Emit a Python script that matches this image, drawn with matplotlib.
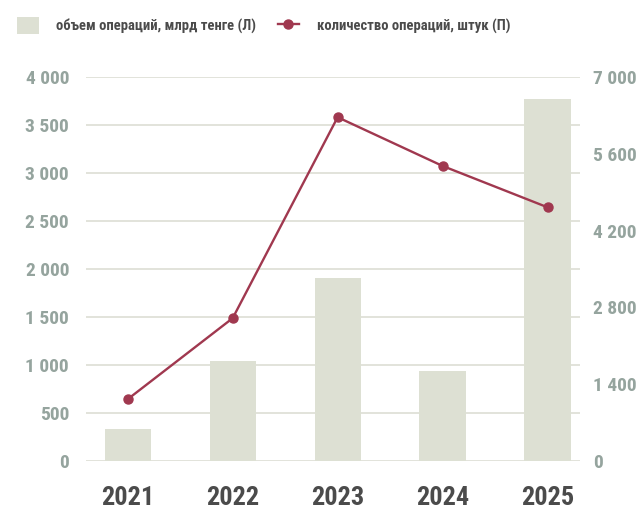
import matplotlib
matplotlib.use("Agg")
import matplotlib.pyplot as plt
from matplotlib.patches import Patch
from matplotlib.lines import Line2D
from matplotlib.ticker import FuncFormatter, FixedLocator
import numpy as np

# ── data ────────────────────────────────────────────────────────────────────
years = ["2021", "2022", "2023", "2024", "2025"]
volume_bn = [330, 1040, 1910, 935, 3770]        # left axis, bars
count_ops = [1120, 2600, 6270, 5380, 4625]      # right axis, line

BAR = "#DDE0D3"
LINE = "#A0384F"
TICK = "#95A49E"
DARK = "#4B4B4B"
GRID = "#E2E3DA"
FONT = ["Roboto Condensed", "DejaVu Sans"]

plt.rcParams["font.family"] = FONT
plt.rcParams["font.weight"] = "bold"


def spaced(v, _pos=None):
    return f"{v:,.0f}".replace(",", " ")


fig = plt.figure(figsize=(6.4, 5.11), dpi=100)
ax = fig.add_axes([0.134, 0.0988, 0.773, 0.75])
ax2 = ax.twinx()

x = np.arange(len(years))
ax.bar(x, volume_bn, width=0.44, color=BAR, zorder=2)
ax2.plot(x, count_ops, color=LINE, linewidth=1.7, marker="o", markersize=6.5, zorder=3)

ax.set_xlim(-0.4, 4.314)
ax.set_ylim(0, 4000)
ax2.set_ylim(0, 7000)
ax.yaxis.set_major_locator(FixedLocator(np.arange(0, 4001, 500)))
ax2.yaxis.set_major_locator(FixedLocator(np.arange(0, 7001, 1400)))
ax.yaxis.set_major_formatter(FuncFormatter(spaced))
ax2.yaxis.set_major_formatter(FuncFormatter(spaced))

ax.grid(axis="y", color=GRID, linewidth=1.4, zorder=0)
ax.set_axisbelow(True)
for a in (ax, ax2):
    for s in a.spines.values():
        s.set_visible(False)

ax.set_xticks(x)
ax.set_xticklabels(years)
ax.tick_params(axis="x", length=0, pad=18, labelsize=19, labelcolor=DARK)
ax.tick_params(axis="y", length=0, pad=12, labelsize=14, labelcolor=TICK)
ax2.tick_params(axis="y", length=0, pad=9, labelsize=14, labelcolor=TICK)

handles = [
    Patch(facecolor=BAR, edgecolor="none"),
    Line2D([0], [0], color=LINE, linewidth=1.7, marker="o", markersize=6.5),
]
labels = ["объем операций, млрд тенге (Л)", "количество операций, штук (П)"]
fig.legend(handles, labels, loc="upper left", bbox_to_anchor=(0.0266, 0.967),
           ncol=2, frameon=False, fontsize=10.5, labelcolor=DARK,
           borderpad=0, borderaxespad=0,
           handlelength=1.5, handleheight=1.45, handletextpad=1.2, columnspacing=1.45)

plt.savefig("out.png", dpi=100)
